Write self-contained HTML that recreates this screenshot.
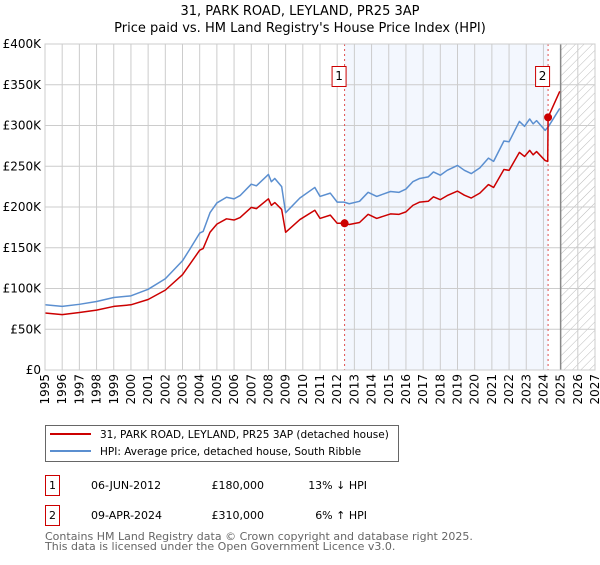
<!DOCTYPE html>
<html><head><meta charset="utf-8"><style>
body{margin:0;background:#fff;}
svg text{font-family:"DejaVu Sans","Liberation Sans",sans-serif;}
</style></head><body>
<svg id="chart" width="600" height="560" viewBox="0 0 600 560" xmlns="http://www.w3.org/2000/svg">
<text x="300" y="15" font-size="13" text-anchor="middle">31, PARK ROAD, LEYLAND, PR25 3AP</text>
<text x="300" y="32" font-size="13" text-anchor="middle">Price paid vs. HM Land Registry's House Price Index (HPI)</text>
<g id="plot"></g>
<g>
<rect x="45.5" y="425.5" width="353" height="36" fill="#fff" stroke="#666"/>
<line x1="50" y1="434" x2="91" y2="434" stroke="#cc0000" stroke-width="2"/>
<text x="100" y="438" font-size="10.5">31, PARK ROAD, LEYLAND, PR25 3AP (detached house)</text>
<line x1="50" y1="451" x2="91" y2="451" stroke="#5b8fd0" stroke-width="2"/>
<text x="100" y="455" font-size="10.5">HPI: Average price, detached house, South Ribble</text>
</g>
<g>
<rect x="45.5" y="475.5" width="14" height="20" fill="#fff" stroke="#cc0000"/>
<text x="52.5" y="489" font-size="11" text-anchor="middle">1</text>
<text x="91" y="489" font-size="11">06-JUN-2012</text>
<text x="264" y="489" font-size="11" text-anchor="end">£180,000</text>
<text x="367" y="489" font-size="11" text-anchor="end">13% ↓ HPI</text>
<rect x="45.5" y="505.5" width="14" height="20" fill="#fff" stroke="#cc0000"/>
<text x="52.5" y="519" font-size="11" text-anchor="middle">2</text>
<text x="91" y="519" font-size="11">09-APR-2024</text>
<text x="264" y="519" font-size="11" text-anchor="end">£310,000</text>
<text x="367" y="519" font-size="11" text-anchor="end">6% ↑ HPI</text>
</g>
<text x="45" y="540" font-size="11" fill="#666">Contains HM Land Registry data © Crown copyright and database right 2025.</text>
<text x="45" y="550" font-size="11" fill="#666">This data is licensed under the Open Government Licence v3.0.</text>
</svg>
<script>
const hpiYears=[1995.0,1996.0,1997.0,1998.0,1999.0,2000.0,2001.0,2002.0,2003.0,2003.42,2004.0,2004.2,2004.6,2005.0,2005.56,2006.0,2006.35,2007.0,2007.3,2008.0,2008.17,2008.37,2008.77,2009.0,2009.83,2010.7,2011.0,2011.6,2012.0,2012.4,2012.7,2013.3,2013.8,2014.3,2015.1,2015.6,2016.0,2016.4,2016.8,2017.3,2017.6,2018.0,2018.4,2019.0,2019.4,2019.8,2020.3,2020.8,2021.1,2021.7,2022.0,2022.6,2022.9,2023.2,2023.4,2023.6,2024.1,2024.3,2024.95];
const hpiValues=[80,78,80.6,84,89,91,99,112,134,148,168,170,193,205,212,210,214,228,226,240,231,235,225,193,211,224,213,217,206,206,204,207,218,213,219,218,222,231,235,237,243,239,245,251,245,241,248,260,256,281,280,305,299,308,302,306,294,299,321];
const priceYears=[1995.0,1996.0,1997.0,1998.0,1999.0,2000.0,2001.0,2002.0,2003.0,2003.42,2004.0,2004.2,2004.6,2005.0,2005.56,2006.0,2006.35,2007.0,2007.3,2008.0,2008.17,2008.37,2008.77,2009.0,2009.83,2010.7,2011.0,2011.6,2012.0,2012.43,2012.7,2013.3,2013.8,2014.3,2015.1,2015.6,2016.0,2016.4,2016.8,2017.3,2017.6,2018.0,2018.4,2019.0,2019.4,2019.8,2020.3,2020.8,2021.1,2021.7,2022.0,2022.6,2022.9,2023.2,2023.4,2023.6,2024.1,2024.25,2024.27,2024.95];
const priceValues=[70,68,70.5,73.5,78,80,86.5,98,117,129.5,147,149,169,179,185.5,184,187,199.5,198,210,202,205.5,197,169,184.6,196,186,190,180,180,178.5,181,191,186,191.5,191,194,202,206,207,212.5,209,214,219.5,214.5,211,217,227.5,224,246,245,267,262,269.5,264,268,257,256,310,342];
const saleYears=[2012.43,2024.27];
const saleValues=[180,310];
const saleLabels=["1","2"];
const yTicks=[0,50,100,150,200,250,300,350,400];
const yTickLabels=["£0","£50K","£100K","£150K","£200K","£250K","£300K","£350K","£400K"];
const xTicks=[1995,1996,1997,1998,1999,2000,2001,2002,2003,2004,2005,2006,2007,2008,2009,2010,2011,2012,2013,2014,2015,2016,2017,2018,2019,2020,2021,2022,2023,2024,2025,2026,2027];

const L=45,R=595,T=44,B=370,X0=1995,X1=2027,YMAX=400,DATA_END=2025;
const xs=y=>L+(y-X0)/(X1-X0)*(R-L);
const ys=v=>B-v/YMAX*(B-T);
const NS="http://www.w3.org/2000/svg";
const g=document.getElementById('plot');
function mk(tag,attrs,parent){const e=document.createElementNS(NS,tag);for(const k in attrs)e.setAttribute(k,attrs[k]);(parent||g).appendChild(e);return e;}

const defs=mk('defs',{});
const pat=mk('pattern',{id:'hatch',width:6,height:6,patternUnits:'userSpaceOnUse',patternTransform:'rotate(45)'},defs);
mk('line',{x1:0,y1:0,x2:0,y2:6,stroke:'#bbb','stroke-width':1},pat);

const shade=mk('rect',{x:xs(saleYears[0]),y:T,width:xs(saleYears[1])-xs(saleYears[0]),height:B-T,fill:'#eef3fd',opacity:0.7});


const hat=mk('rect',{x:xs(DATA_END),y:T,width:R-xs(DATA_END),height:B-T,fill:'url(#hatch)'});



xTicks.forEach((t,i)=>{
  const x=xs(t);
  const gl=mk('line',{x1:x,y1:T,x2:x,y2:B,stroke:'#ccc','stroke-width':1});
  
  
  const tx=mk('text',{x:0,y:0,'font-size':12,'text-anchor':'end',transform:`translate(${x+4},${B+4}) rotate(-90)`});
  tx.textContent=t;
  
  
});
yTicks.forEach((t,i)=>{
  const y=ys(t);
  const gl=mk('line',{x1:L,y1:y,x2:R,y2:y,stroke:'#ccc','stroke-width':1});
  
  
  const tx=mk('text',{x:L-4,y:y+4,'font-size':12,'text-anchor':'end'});
  tx.textContent=yTickLabels[i];
  
  
});
const dl=mk('line',{x1:xs(DATA_END),y1:T,x2:xs(DATA_END),y2:B,stroke:'#888','stroke-width':1.5});



saleYears.forEach((s,i)=>{
  const x=xs(s);
  const vl=mk('line',{x1:x,y1:T,x2:x,y2:B,stroke:'#e05050','stroke-width':1,'stroke-dasharray':'2,3'});
  
  
  const bx=mk('rect',{x:x-12.5,y:66.5,width:14,height:20,fill:'#fff',stroke:'#cc0000'});
  
  
  const lt=mk('text',{x:x-5.5,y:80,'font-size':12,'text-anchor':'middle'});
  lt.textContent=saleLabels[i];
  
  
});

const hp=mk('polyline',{points:hpiYears.map((y,i)=>xs(y)+','+ys(hpiValues[i])).join(' '),fill:'none',stroke:'#5b8fd0','stroke-width':1.5,'stroke-linejoin':'round'});


const pp=mk('polyline',{points:priceYears.map((y,i)=>xs(y)+','+ys(priceValues[i])).join(' '),fill:'none',stroke:'#cc0000','stroke-width':1.5,'stroke-linejoin':'round'});


saleYears.forEach((s,i)=>{
  const c=mk('circle',{cx:xs(s),cy:ys(saleValues[i]),r:4,fill:'#cc0000'});
  
  
});
const fr=mk('rect',{x:L,y:T,width:R-L,height:B-T,fill:'none',stroke:'#ccc'});


</script>
</body></html>
